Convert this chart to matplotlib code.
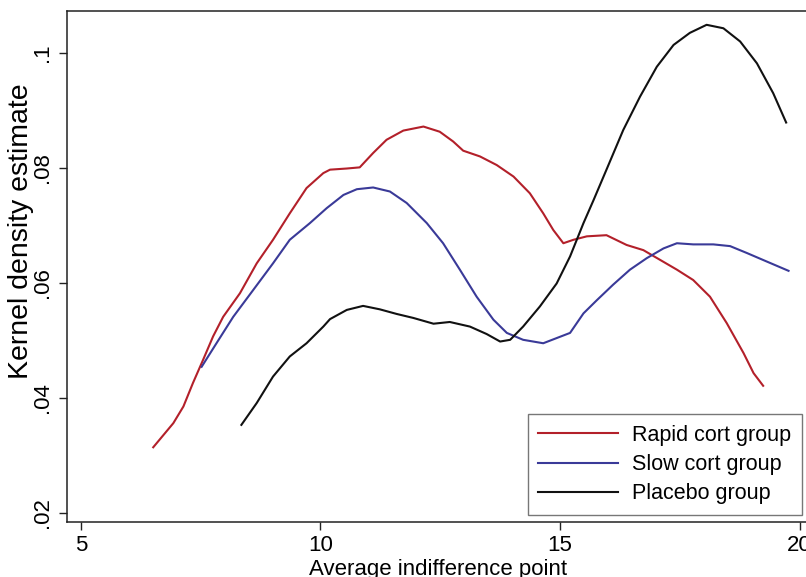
import matplotlib
matplotlib.use("Agg")
import matplotlib.pyplot as plt

plt.rcParams['font.family'] = ['Liberation Sans', 'DejaVu Sans']

# Kernel density curves
rapid_x = [6.51, 6.93, 7.14, 7.34, 7.55, 7.76, 7.97, 8.32, 8.67, 9.01, 9.36, 9.71,
           10.06, 10.20, 10.55, 10.82, 11.10, 11.38, 11.73, 12.15, 12.49, 12.77,
           12.98, 13.33, 13.68, 14.03, 14.37, 14.65, 14.86, 15.07, 15.28, 15.56,
           15.97, 16.39, 16.74, 17.09, 17.44, 17.78, 18.13, 18.48, 18.83, 19.04,
           19.24]
rapid_y = [0.0314, 0.0356, 0.0385, 0.0426, 0.0466, 0.0507, 0.0541, 0.0582, 0.0634,
           0.0675, 0.0721, 0.0765, 0.0791, 0.0797, 0.0799, 0.0801, 0.0826, 0.0849,
           0.0865, 0.0872, 0.0863, 0.0846, 0.0830, 0.0820, 0.0805, 0.0785, 0.0756,
           0.0721, 0.0692, 0.0669, 0.0675, 0.0681, 0.0683, 0.0666, 0.0657, 0.0640,
           0.0623, 0.0605, 0.0576, 0.0530, 0.0478, 0.0443, 0.0421]

slow_x = [7.52, 7.83, 8.18, 8.60, 9.01, 9.36, 9.78, 10.13, 10.48, 10.76, 11.10,
          11.45, 11.80, 12.22, 12.56, 12.91, 13.26, 13.61, 13.89, 14.23, 14.65,
          14.93, 15.21, 15.49, 15.77, 16.11, 16.46, 16.81, 17.16, 17.44, 17.78,
          18.20, 18.55, 18.90, 19.32, 19.77]
slow_y = [0.0454, 0.0495, 0.0541, 0.0588, 0.0634, 0.0675, 0.0704, 0.0730, 0.0753,
          0.0763, 0.0766, 0.0759, 0.0739, 0.0704, 0.0669, 0.0623, 0.0576, 0.0536,
          0.0513, 0.0501, 0.0495, 0.0504, 0.0513, 0.0547, 0.0570, 0.0597, 0.0623,
          0.0643, 0.0660, 0.0669, 0.0667, 0.0667, 0.0664, 0.0652, 0.0637, 0.0621]

placebo_x = [8.35, 8.67, 9.01, 9.36, 9.71, 10.06, 10.20, 10.55, 10.89, 11.24, 11.59,
             11.94, 12.36, 12.70, 13.12, 13.47, 13.75, 13.96, 14.23, 14.58, 14.93,
             15.21, 15.49, 15.70, 15.97, 16.32, 16.67, 17.02, 17.37, 17.71, 18.06,
             18.41, 18.76, 19.11, 19.45, 19.72]
placebo_y = [0.0353, 0.0391, 0.0437, 0.0472, 0.0495, 0.0524, 0.0537, 0.0553, 0.0560,
             0.0554, 0.0546, 0.0539, 0.0529, 0.0532, 0.0524, 0.0511, 0.0498, 0.0501,
             0.0524, 0.0559, 0.0599, 0.0646, 0.0704, 0.0744, 0.0797, 0.0866, 0.0924,
             0.0976, 0.1014, 0.1035, 0.1049, 0.1043, 0.1020, 0.0982, 0.0930, 0.0879]

labels = ["Rapid cort group", "Slow cort group", "Placebo group"]
x_ticks = [5, 10, 15, 20]
y_ticks = [0.02, 0.04, 0.06, 0.08, 0.1]
y_tick_labels = [".02", ".04", ".06", ".08", ".1"]

fig = plt.figure(figsize=(8.06, 5.77), dpi=100)
ax = fig.add_axes([0.0831, 0.0953, 0.922, 0.8856])

ax.plot(rapid_x, rapid_y, color='#b3202a', lw=1.5, label=labels[0])
ax.plot(slow_x, slow_y, color='#3a3a98', lw=1.5, label=labels[1])
ax.plot(placebo_x, placebo_y, color='#111111', lw=1.5, label=labels[2])

ax.set_xlim(4.71, 20.22)
ax.set_ylim(0.0184, 0.1073)
ax.set_xticks(x_ticks)
ax.set_yticks(y_ticks)
ax.set_yticklabels(y_tick_labels, rotation=90, va='center')
ax.tick_params(axis='both', direction='out', length=6, width=1, labelsize=16, color='#222222')
ax.tick_params(axis='y', pad=4)

for side in ['left', 'bottom', 'top']:
    ax.spines[side].set_linewidth(1.1)
    ax.spines[side].set_color('#222222')
ax.spines['right'].set_visible(False)

ax.set_xlabel("Average indifference point", fontsize=16, labelpad=2)
ax.set_ylabel("Kernel density estimate", fontsize=20.5)
ax.yaxis.set_label_coords(-0.045, 0.5695)

leg = ax.legend(loc='lower right', bbox_to_anchor=(0.9892, 0.0137), fontsize=15.5,
                frameon=True, fancybox=False, edgecolor='#555555',
                handlelength=3.72, handletextpad=0.65, labelspacing=0.39,
                borderpad=0.49, borderaxespad=0)
leg.get_frame().set_linewidth(1.0)

fig.savefig("out.png", dpi=100)
